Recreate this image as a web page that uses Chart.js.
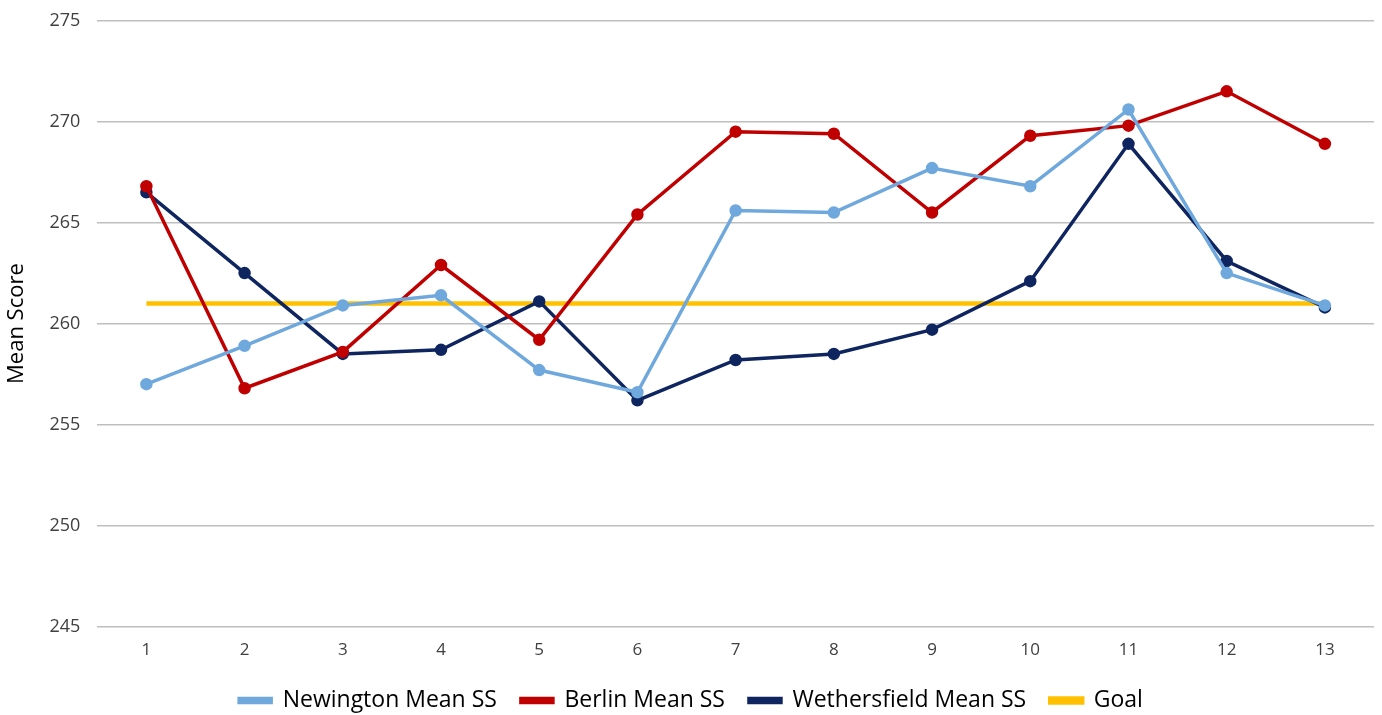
<!DOCTYPE html>
<html>
<head>
<meta charset="utf-8">
<script src="https://cdn.jsdelivr.net/npm/chart.js@4"></script>
<style>
  html, body { margin: 0; padding: 0; background: #fff; }
  #wrap { width: 1382px; height: 715px; }
</style>
</head>
<body>
<div id="wrap"><canvas id="grafica"></canvas></div>
<script>
const categorias = ['1', '2', '3', '4', '5', '6', '7', '8', '9', '10', '11', '12', '13'];
const newington = [257.0, 258.9, 260.9, 261.4, 257.7, 256.6, 265.6, 265.5, 267.7, 266.8, 270.6, 262.5, 260.9];
const berlin = [266.8, 256.8, 258.6, 262.9, 259.2, 265.4, 269.5, 269.4, 265.5, 269.3, 269.8, 271.5, 268.9];
const wethersfield = [266.5, 262.5, 258.5, 258.7, 261.1, 256.2, 258.2, 258.5, 259.7, 262.1, 268.9, 263.1, 260.8];
const meta = [261, 261, 261, 261, 261, 261, 261, 261, 261, 261, 261, 261, 261];

const fuente = "'Open Sans', sans-serif";

function serie(label, data, color) {
    return {
        label: label,
        data: data,
        borderColor: color,
        backgroundColor: color,
        borderWidth: 3.5,
        pointRadius: 4.5,
        pointHoverRadius: 4.5,
        tension: 0
    };
}

new Chart(document.getElementById('grafica').getContext('2d'), {
    type: 'line',
    data: {
        labels: categorias,
        datasets: [
            serie('Newington Mean SS', newington, '#6fa8dc'),
            serie('Berlin Mean SS', berlin, '#c00000'),
            serie('Wethersfield Mean SS', wethersfield, '#0f2560'),
            {
                label: 'Goal',
                data: meta,
                borderColor: '#ffc000',
                backgroundColor: '#ffc000',
                borderWidth: 4.5,
                pointRadius: 0,
                tension: 0
            }
        ]
    },
    options: {
        responsive: true,
        maintainAspectRatio: false,
        animation: false,
        layout: { padding: { top: 0, right: 4, left: 4, bottom: 0 } },
        plugins: {
            legend: {
                position: 'bottom',
                maxHeight: 50,
                labels: {
                    font: { family: fuente, size: 23 },
                    color: '#000',
                    boxWidth: 32,
                    boxHeight: 4,
                    padding: 24
                }
            },
            tooltip: { enabled: false }
        },
        scales: {
            x: {
                offset: true,
                grid: { display: false },
                border: { display: false },
                ticks: { font: { family: fuente, size: 17, lineHeight: 1.2 }, color: '#404040', padding: 5 }
            },
            y: {
                min: 245,
                max: 275,
                ticks: { stepSize: 5, font: { family: fuente, size: 18, lineHeight: 0.4 }, color: '#404040', padding: 17 },
                grid: { color: '#bfbfbf', lineWidth: 1.5, drawTicks: false },
                border: { display: false },
                title: {
                    display: true,
                    text: 'Mean Score',
                    font: { family: fuente, size: 22 },
                    color: '#000',
                    padding: { top: 0, bottom: 2 }
                }
            }
        }
    }
});
</script>
</body>
</html>
